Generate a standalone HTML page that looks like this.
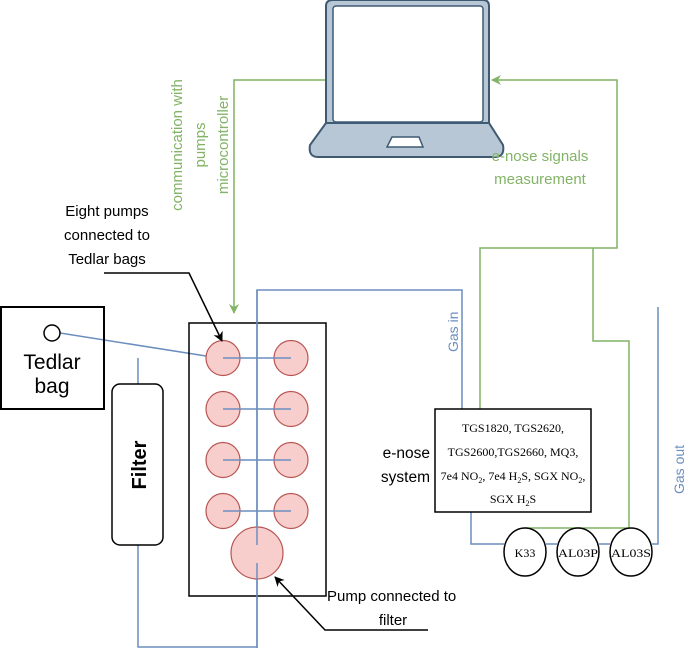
<!DOCTYPE html>
<html><head><meta charset="utf-8"><style>
html,body{margin:0;padding:0;background:#fff;}
svg{display:block;}
text{font-family:"Liberation Sans",sans-serif;}
.s{font-family:"Liberation Serif",serif;font-size:12px;}
</style></head><body>
<svg width="685" height="649" viewBox="0 0 685 649" xmlns="http://www.w3.org/2000/svg">
<defs>
<marker id="ga" markerWidth="10" markerHeight="10" refX="9" refY="5" orient="auto" markerUnits="userSpaceOnUse"><path d="M0,0 L10,5 L0,10 L3,5 Z" fill="#82b366"/></marker>
<marker id="ka" markerWidth="10" markerHeight="10" refX="9" refY="5" orient="auto" markerUnits="userSpaceOnUse"><path d="M0,0 L10,5 L0,10 L3,5 Z" fill="#000"/></marker>
</defs>
<!-- laptop -->
<path d="M333,0 L483,0 Q489,0 489,6 L489,123 L326,123 L326,6 Q326,0 333,0 Z" fill="#b8c7d6" stroke="#3f5a73" stroke-width="2"/>
<rect x="333" y="6" width="150" height="116" rx="3" fill="#fff" stroke="#3f5a73" stroke-width="1.5"/>
<path d="M326,123 L489,123 L503,145 Q505,157 495,157 L318,157 Q308,157 310,145 Z" fill="#b8c7d6" stroke="#3f5a73" stroke-width="2"/>
<path d="M392,137 L419,137 L423,147 L387,147 Z" fill="#fff" stroke="#3f5a73" stroke-width="1.5"/>
<!-- green lines -->
<g fill="none" stroke="#82b366" stroke-width="1.5">
<path d="M325,80 L234,80 L234,313" marker-end="url(#ga)"/>
<path d="M480,409 L480,248 L617,248 L617,80 L492,80" marker-end="url(#ga)"/>
<path d="M593,248 L593,341 L629,341 L629,528"/>
<path d="M525,528 L629,528"/>
</g>
<text x="540" y="161" font-size="15" fill="#82b366" text-anchor="middle">e-nose signals</text>
<text x="540" y="184" font-size="15" fill="#82b366" text-anchor="middle">measurement</text>
<g font-size="15" fill="#82b366" text-anchor="middle">
<text transform="translate(182,145) rotate(-90)">communication with</text>
<text transform="translate(205,145) rotate(-90)">pumps</text>
<text transform="translate(228,145) rotate(-90)">microcontroller</text>
</g>
<!-- blue lines -->
<g fill="none" stroke="#6c8ebf" stroke-width="1.5">
<path d="M257,648 L257,290 L462,290 L462,409"/>
<path d="M60,333 L206,356"/>
<path d="M138,358 L138,384"/>
<path d="M138,545 L138,647 L257,647"/>
<path d="M471,512 L471,544 L504,544"/>
<path d="M546,544 L557,544 M599,544 L610,544"/>
<path d="M652,544 L658,544 L658,307"/>
</g>
<text transform="translate(458,352) rotate(-90)" font-size="14" fill="#6c8ebf">Gas in</text>
<text transform="translate(684,494) rotate(-90)" font-size="14" fill="#6c8ebf">Gas out</text>
<!-- Tedlar bag -->
<rect x="1" y="307" width="103" height="102" fill="none" stroke="#000" stroke-width="2"/>
<circle cx="52" cy="333" r="8" fill="#fff" stroke="#000" stroke-width="1.5"/>
<text x="52" y="369" font-size="21" text-anchor="middle">Tedlar</text>
<text x="52" y="393" font-size="21" text-anchor="middle">bag</text>
<!-- Filter -->
<rect x="112" y="384" width="51" height="161" rx="8" fill="#fff" stroke="#000" stroke-width="1.5"/>
<text transform="translate(146,465) rotate(-90)" font-size="20" font-weight="bold" text-anchor="middle">Filter</text>
<!-- pump box -->
<rect x="189" y="323" width="137" height="273" fill="none" stroke="#000" stroke-width="1.5"/>
<g fill="#f8cecc" stroke="#b85450" stroke-width="1.2">
<ellipse cx="223" cy="358" rx="17" ry="17.5"/><ellipse cx="291" cy="358" rx="17" ry="17.5"/>
<ellipse cx="223" cy="409" rx="17" ry="17.5"/><ellipse cx="291" cy="409" rx="17" ry="17.5"/>
<ellipse cx="223" cy="460" rx="17" ry="17.5"/><ellipse cx="291" cy="460" rx="17" ry="17.5"/>
<ellipse cx="223" cy="511" rx="17" ry="17.5"/><ellipse cx="291" cy="511" rx="17" ry="17.5"/>
<ellipse cx="257" cy="553" rx="26" ry="26"/>
</g>
<g stroke="#6c8ebf" stroke-width="1.5" fill="none">
<path d="M223,358 L291,358 M223,409 L291,409 M223,460 L291,460 M223,511 L291,511"/>
<path d="M257,290 L257,545 M257,563 L257,648"/>
</g>
<!-- black annotations -->
<text x="107" y="216" font-size="15" text-anchor="middle">Eight pumps</text>
<text x="107" y="240" font-size="15" text-anchor="middle">connected to</text>
<text x="107" y="264" font-size="15" text-anchor="middle">Tedlar bags</text>
<path d="M104,273 L189,273 L222,341" fill="none" stroke="#000" stroke-width="1.5" marker-end="url(#ka)"/>
<text x="327" y="601" font-size="15">Pump connected to</text>
<text x="393" y="625" font-size="15" text-anchor="middle">filter</text>
<path d="M428,630 L325,630 L275,577" fill="none" stroke="#000" stroke-width="1.5" marker-end="url(#ka)"/>
<!-- e-nose -->
<rect x="435" y="409" width="156" height="103" fill="#fff" stroke="#000" stroke-width="1.5"/>
<text x="513" y="432" class="s" text-anchor="middle">TGS1820, TGS2620,</text>
<text x="513" y="456" class="s" text-anchor="middle">TGS2600,TGS2660, MQ3,</text>
<text x="513" y="480" class="s" text-anchor="middle">7e4 NO<tspan font-size="8" dy="3">2</tspan><tspan dy="-3">, 7e4 H</tspan><tspan font-size="8" dy="3">2</tspan><tspan dy="-3">S, SGX NO</tspan><tspan font-size="8" dy="3">2</tspan><tspan dy="-3">,</tspan></text>
<text x="513" y="503" class="s" text-anchor="middle">SGX H<tspan font-size="8" dy="3">2</tspan><tspan dy="-3">S</tspan></text>
<text x="430" y="458" font-size="15.5" text-anchor="end">e-nose</text>
<text x="430" y="482" font-size="15.5" text-anchor="end">system</text>
<g fill="#fff" stroke="#000" stroke-width="1.5">
<ellipse cx="525" cy="552" rx="21" ry="24"/>
<ellipse cx="578" cy="552" rx="21" ry="24"/>
<ellipse cx="631" cy="552" rx="21" ry="24"/>
</g>
<text x="525" y="557" class="s" font-size="13.5" text-anchor="middle">K33</text>
<text x="578" y="557" class="s" font-size="13.5" text-anchor="middle" textLength="40" lengthAdjust="spacingAndGlyphs">AL03P</text>
<text x="631" y="557" class="s" font-size="13.5" text-anchor="middle" textLength="40" lengthAdjust="spacingAndGlyphs">AL03S</text>
</svg>
</body></html>
